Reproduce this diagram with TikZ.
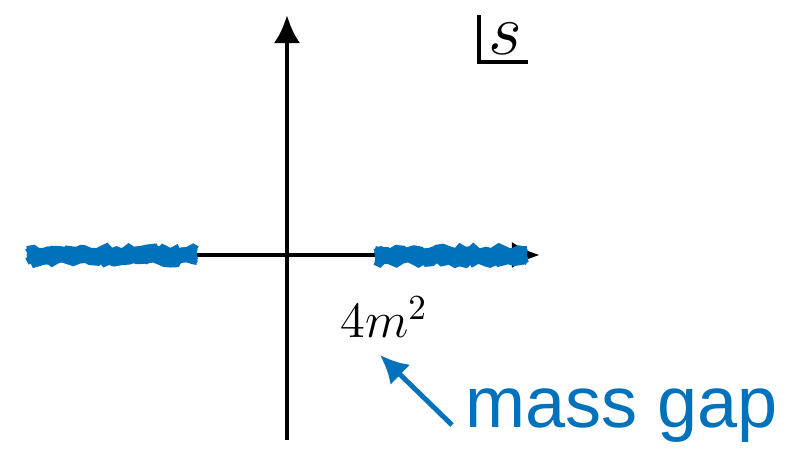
\documentclass[tikz,border=0pt]{standalone}
\usepackage{fontspec}
\newfontfamily\labelfont{Liberation Sans}
\usetikzlibrary{arrows.meta,decorations.pathmorphing}

\definecolor{gapblue}{RGB}{0,114,188}

\newcommand*{\xmin}{-2.57}
\newcommand*{\xmax}{2.53}
\newcommand*{\ymin}{-1.85}
\newcommand*{\ymax}{2.40}

\begin{document}
\begin{tikzpicture}
[
	axis/.style={-{Latex[length=8pt,width=7.5pt]},line width=1.4pt},
	cutline/.style={gapblue,line width=2pt,decorate,decoration={random steps,segment length=1.5pt,amplitude=0.8pt}},
	pointer/.style={-{Latex[length=8pt,width=8pt]},gapblue,line width=1.4pt}
]
	\useasboundingbox (-2.87,-1.95) rectangle (5.12,2.55);

	% axes
	\draw[axis] (\xmin,0) -- (\xmax,0);
	\draw[axis] (0,\ymin) -- (0,\ymax);

	% branch cuts
	\foreach \dy in {-0.065,-0.035,-0.005,0.025,0.055} {
		\draw[cutline] (-2.60,\dy) -- (-0.90,\dy);
		\draw[cutline] (0.88,\dy) -- (2.40,\dy);
	}

	% s plane label
	\draw[line width=1.2pt] (1.92,2.40) -- (1.92,1.93) -- (2.41,1.93);
	\node at (2.18,2.16) (plane) {\fontsize{20}{24}\selectfont$s$};

	% threshold
	\node at (0.97,-0.62) (thr) {\fontsize{14}{17}\selectfont$4m^2$};
	\node[anchor=base west,gapblue,inner sep=0pt] at (1.78,-1.72) (gap) {\labelfont\fontsize{20.5}{24}\selectfont mass gap};
	\coordinate (tip) at (0.93,-1.00);
	\draw[pointer] ([xshift=-0.13cm,yshift=0.02cm]gap.base west) -- (tip);

\end{tikzpicture}
\end{document}
